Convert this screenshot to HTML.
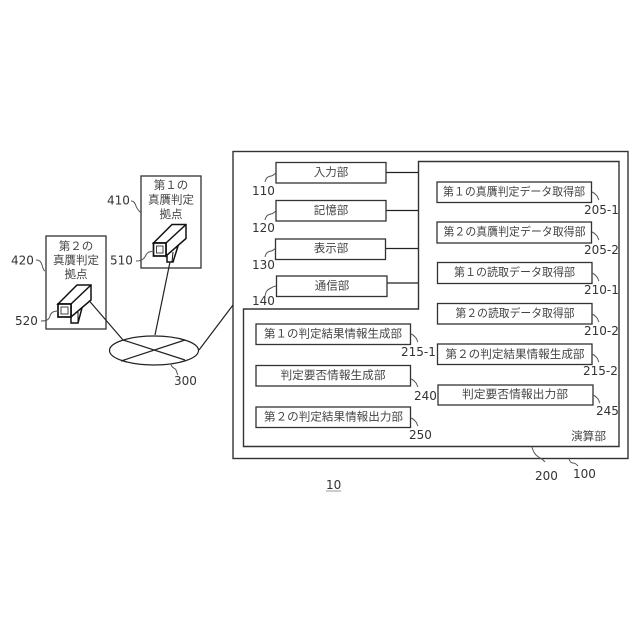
<!DOCTYPE html>
<html><head><meta charset="utf-8">
<style>
html,body{margin:0;padding:0;background:#fff}
svg{display:block}
.j{font-family:"Liberation Sans","Noto Sans CJK JP",sans-serif;font-size:11.5px;fill:#444;text-anchor:middle;dominant-baseline:central}
.n{font-family:"DejaVu Sans",sans-serif;font-size:12px;fill:#333;dominant-baseline:central}
.b{fill:#fff;stroke:#333;stroke-width:1.3}
.l{fill:none;stroke:#222;stroke-width:1.2}
.t{fill:none;stroke:#555;stroke-width:1}
</style></head><body>
<svg width="640" height="640" viewBox="0 0 640 640" xmlns="http://www.w3.org/2000/svg">
<rect width="640" height="640" fill="#fff"/>
<rect x="233" y="151.5" width="395" height="307" fill="#fff" stroke="#333" stroke-width="1.4"/>
<path d="M418.5 309V161.5H619V446.5H243.5V309Z" fill="#fff" stroke="#333" stroke-width="1.4"/>

<path class="l" d="M386 172.5H418M386 210.5H418M385.500 248.500H418M387 283H418"/>
<rect class="b" x="276" y="162.500" width="110" height="20.500"/>
<rect class="b" x="276" y="200.500" width="110" height="20.500"/>
<rect class="b" x="275.500" y="239" width="110" height="20.500"/>
<rect class="b" x="276.500" y="276" width="110.500" height="20.500"/>
<text class="j" x="331" y="173">入力部</text>
<text class="j" x="331" y="211">記憶部</text>
<text class="j" x="331" y="249">表示部</text>
<text class="j" x="332" y="286.500">通信部</text>

<rect class="b" x="437" y="182" width="154.500" height="20.500"/>
<rect class="b" x="437" y="222" width="154.500" height="21"/>
<rect class="b" x="437.500" y="262.500" width="154.500" height="21"/>
<rect class="b" x="437.500" y="303.500" width="154.500" height="20.500"/>
<rect class="b" x="437.500" y="344" width="154.500" height="20.500"/>
<rect class="b" x="438" y="385" width="155" height="20"/>
<rect class="b" x="256" y="324" width="154.500" height="20.500"/>
<rect class="b" x="256" y="365.500" width="154.500" height="20.500"/>
<rect class="b" x="256" y="407" width="154.500" height="20.500"/>

<text class="j" x="514" y="192.500" textLength="142" lengthAdjust="spacingAndGlyphs">第１の真贋判定データ取得部</text>
<text class="j" x="514.500" y="232.500" textLength="142" lengthAdjust="spacingAndGlyphs">第２の真贋判定データ取得部</text>
<text class="j" x="514.500" y="273" textLength="121" lengthAdjust="spacingAndGlyphs">第１の読取データ取得部</text>
<text class="j" x="515" y="314" textLength="119" lengthAdjust="spacingAndGlyphs">第２の読取データ取得部</text>
<text class="j" x="515" y="355" textLength="139" lengthAdjust="spacingAndGlyphs">第２の判定結果情報生成部</text>
<text class="j" x="515" y="395" textLength="106" lengthAdjust="spacingAndGlyphs">判定要否情報出力部</text>
<text class="j" x="333" y="334.500" textLength="138" lengthAdjust="spacingAndGlyphs">第１の判定結果情報生成部</text>
<text class="j" x="333" y="376" textLength="105" lengthAdjust="spacingAndGlyphs">判定要否情報生成部</text>
<text class="j" x="333.500" y="417.500" textLength="139" lengthAdjust="spacingAndGlyphs">第２の判定結果情報出力部</text>
<text class="j" x="588.500" y="437" textLength="35" lengthAdjust="spacingAndGlyphs">演算部</text>

<rect class="b" x="141" y="176" width="60" height="92"/>
<rect class="b" x="46" y="236" width="60" height="93"/>
<text class="j" x="171" y="186">第１の</text>
<text class="j" x="171" y="200.500" textLength="46" lengthAdjust="spacingAndGlyphs">真贋判定</text>
<text class="j" x="171" y="215">拠点</text>
<text class="j" x="76" y="247">第２の</text>
<text class="j" x="76" y="261" textLength="46" lengthAdjust="spacingAndGlyphs">真贋判定</text>
<text class="j" x="76" y="275">拠点</text>

<!-- camera 1 -->
<path d="M167 252V262H173L178 246Z" fill="#fff" stroke="#111" stroke-width="1.500"/>
<path d="M173 252L172 262" stroke="#111" stroke-width="1" fill="none"/>
<path d="M153.500 243L172 224.500H186V238.500L166 256V243H153.500Z" fill="#fff" stroke="#111" stroke-width="1.500"/>
<path d="M166 243L186 224.500" stroke="#111" stroke-width="1.500" fill="none"/>
<rect x="153.500" y="243" width="12.500" height="13" fill="#fff" stroke="#111" stroke-width="1.700"/>
<rect x="156.500" y="246" width="6.500" height="7" fill="#fff" stroke="#444" stroke-width="1"/>
<!-- camera 2 -->
<path d="M71 312V323H78L82 308Z" fill="#fff" stroke="#111" stroke-width="1.500"/>
<path d="M78 312L78 323" stroke="#111" stroke-width="1" fill="none"/>
<path d="M58 304L77 285H91V300L71 317V304H58Z" fill="#fff" stroke="#111" stroke-width="1.500"/>
<path d="M71 304L91 285" stroke="#111" stroke-width="1.500" fill="none"/>
<rect x="58" y="304" width="13" height="13" fill="#fff" stroke="#111" stroke-width="1.700"/>
<rect x="61" y="307" width="7" height="7" fill="#fff" stroke="#444" stroke-width="1"/>

<!-- network -->
<ellipse cx="154" cy="350.500" rx="44.500" ry="14.500" fill="#fff" stroke="#222" stroke-width="1.200"/>
<path class="l" d="M123 340L185 360M121 361L185 340M89 300.500L123 340M155 335L170 262M199 350L233 305"/>

<!-- leaders -->
<path class="t" d="M131 201c3 0 4 2 5 5s3 5 5 7"/>
<path class="t" d="M136 261c6 0 8-2 10-6s4-3 8-4"/>
<path class="t" d="M37 263c4 0 5 2 6 5s1 5 3 6" transform="translate(-1,-3)"/>
<path class="t" d="M41 321c5 0 8-1 9-5s4-5 9-5"/>
<path class="t" d="M171 365c2 4 4 3 5 5s1 4 2 5" />
<path class="t" d="M265 182c1-4 2-5 6-6 2 0 3-2 5-3"/>
<path class="t" d="M265 220c1-4 2-5 6-6 2 0 3-2 5-3"/>
<path class="t" d="M265 257c1-4 2-5 6-6 2 0 3-2 5-3"/>
<path class="t" d="M265 296c1-5 2-6 6-8 2-1 3-2 5-2"/>
<path class="t" d="M592 192c3 1 4 3 5 4s1 3 2 4"/>
<path class="t" d="M592 232c3 1 4 3 5 4s1 3 2 4"/>
<path class="t" d="M592 273c3 1 4 3 5 4s1 3 2 4"/>
<path class="t" d="M592 314c3 1 4 3 5 4s1 3 2 4"/>
<path class="t" d="M592 354c3 1 4 3 5 4s1 3 2 4"/>
<path class="t" d="M593 395c3 1 4 3 5 4s1 3 2 4"/>
<path class="t" d="M411 334c3 1 4 3 5 4s1 3 2 4"/>
<path class="t" d="M411 379c3 1 4 3 5 4s1 3 2 4"/>
<path class="t" d="M411 418c3 1 4 3 5 4s1 3 2 4"/>
<path class="t" d="M532 447c1 4 2 6 4 8 3 3 6 3 9 7"/>
<path class="t" d="M569 459c1 3 2 4 4 4s3 1 5 3"/>

<text class="n" x="107" y="200.500">410</text>
<text class="n" x="110" y="260.500">510</text>
<text class="n" x="11" y="260.500">420</text>
<text class="n" x="15" y="321">520</text>
<text class="n" x="174" y="381">300</text>
<text class="n" x="252" y="191">110</text>
<text class="n" x="252" y="228">120</text>
<text class="n" x="252" y="265">130</text>
<text class="n" x="252" y="301">140</text>
<text class="n" x="584" y="210">205-1</text>
<text class="n" x="584" y="250">205-2</text>
<text class="n" x="584" y="290">210-1</text>
<text class="n" x="584" y="331">210-2</text>
<text class="n" x="401" y="352">215-1</text>
<text class="n" x="583" y="371">215-2</text>
<text class="n" x="414" y="396">240</text>
<text class="n" x="596" y="411">245</text>
<text class="n" x="409" y="435">250</text>
<text class="n" x="535" y="476">200</text>
<text class="n" x="573" y="474">100</text>
<text class="n" x="326" y="485">10</text>
<path d="M326 491H341" stroke="#999" stroke-width="1"/>
</svg>
</body></html>
